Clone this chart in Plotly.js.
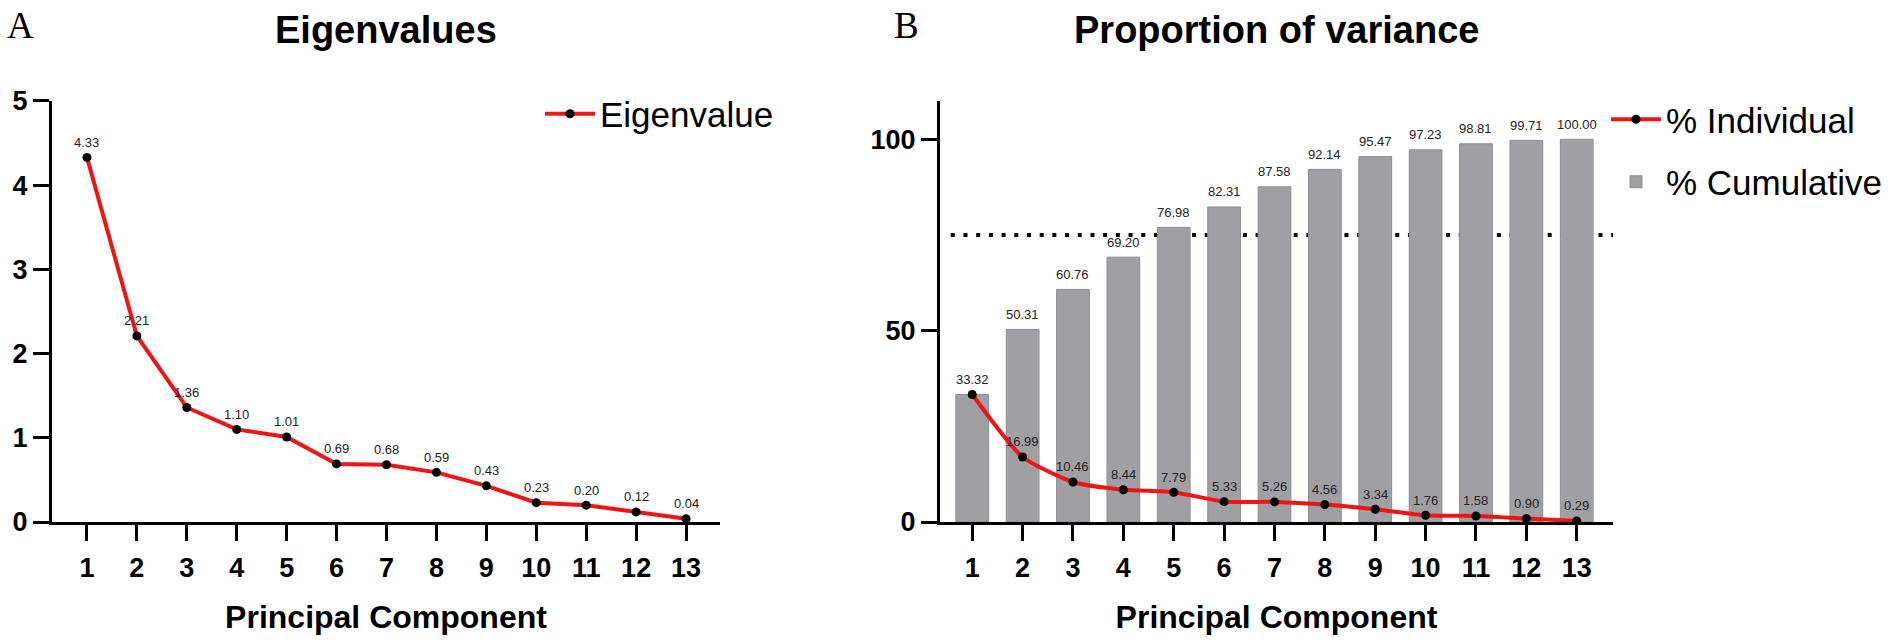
<!DOCTYPE html>
<html>
<head>
<meta charset="utf-8">
<script src="https://cdn.plot.ly/plotly-3.0.1.min.js"></script>
<style>html,body{margin:0;padding:0;background:#fff;}#chart{width:1902px;height:644px;}</style>
</head>
<body>
<div id="chart"></div>
<script>
// ---- data ----
const components = [1, 2, 3, 4, 5, 6, 7, 8, 9, 10, 11, 12, 13];
const eigenvalues = [4.33, 2.21, 1.36, 1.10, 1.01, 0.69, 0.68, 0.59, 0.43, 0.23, 0.20, 0.12, 0.04];
const individualPct = [33.32, 16.99, 10.46, 8.44, 7.79, 5.33, 5.26, 4.56, 3.34, 1.76, 1.58, 0.90, 0.29];
const cumulativePct = [33.32, 50.31, 60.76, 69.20, 76.98, 82.31, 87.58, 92.14, 95.47, 97.23, 98.81, 99.71, 100.00];
const threshold = 75;
const leftTicks = [0, 1, 2, 3, 4, 5];
const rightTicks = [0, 50, 100];

const FONT = 'Liberation Sans, Arial, Helvetica, sans-serif';
const RED = '#f01414';

const traces = [
  {
    x: components, y: eigenvalues, type: 'scatter', mode: 'lines+markers',
    name: 'Eigenvalue', xaxis: 'x', yaxis: 'y', legend: 'legend',
    line: {color: RED, width: 4},
    marker: {color: '#000', size: 9},
    cliponaxis: false
  },
  {
    x: components, y: individualPct, type: 'scatter', mode: 'lines+markers',
    name: '% Individual', xaxis: 'x2', yaxis: 'y2', legend: 'legend2', legendgroup: 'a',
    line: {color: RED, width: 4, shape: 'spline', smoothing: 0.6},
    marker: {color: '#000', size: 9},
    cliponaxis: false
  },
  {
    x: components, y: cumulativePct, type: 'bar',
    name: '% Cumulative', xaxis: 'x2', yaxis: 'y2', legend: 'legend2', legendgroup: 'b',
    marker: {color: '#a09fa4', line: {color: '#8e8d92', width: 1}}
  }
];

const annotations = [];
function fmt(v) { return v.toFixed(2); }
const labelFont = {family: FONT, size: 13, color: '#222'};
components.forEach((c, i) => {
  annotations.push({x: c, y: eigenvalues[i], xref: 'x', yref: 'y', text: fmt(eigenvalues[i]),
    showarrow: false, yshift: 15, font: labelFont});
  annotations.push({x: c, y: individualPct[i], xref: 'x2', yref: 'y2', text: fmt(individualPct[i]),
    showarrow: false, yshift: 15, font: labelFont});
  if (cumulativePct[i] !== individualPct[i]) {
    annotations.push({x: c, y: cumulativePct[i], xref: 'x2', yref: 'y2', text: fmt(cumulativePct[i]),
      showarrow: false, yshift: 15, font: labelFont});
  }
});
// panel titles and letters
const headFont = {family: FONT, size: 38, color: '#000', weight: 'bold'};
const letterFont = {family: 'Liberation Serif, Times New Roman, serif', size: 37, color: '#000'};
annotations.push({xref: 'paper', yref: 'paper', x: 0.2031, y: 1 - 30/644, text: 'Eigenvalues',
  showarrow: false, xanchor: 'center', yanchor: 'middle', font: headFont});
annotations.push({xref: 'paper', yref: 'paper', x: 0.6712, y: 1 - 30/644, text: 'Proportion of variance',
  showarrow: false, xanchor: 'center', yanchor: 'middle', font: headFont});
annotations.push({xref: 'paper', yref: 'paper', x: 5/1902, y: 1 - 25/644, text: 'A',
  showarrow: false, xanchor: 'left', yanchor: 'middle', font: letterFont});
annotations.push({xref: 'paper', yref: 'paper', x: 892/1902, y: 1 - 25/644, text: 'B',
  showarrow: false, xanchor: 'left', yanchor: 'middle', font: letterFont});

const tickFont = {family: FONT, size: 27, color: '#000', weight: 'bold'};
const titleFont = {family: FONT, size: 32, color: '#000', weight: 'bold'};
const legendFont = {family: FONT, size: 35, color: '#000'};
const yDomain = [0.1894, 0.8432];

function xAxis(domain, range, anchor) {
  return {
    domain: domain, range: range, anchor: anchor,
    tickmode: 'array', tickvals: components, ticktext: components.map(String),
    showline: true, linecolor: '#000', linewidth: 3,
    ticks: 'outside', ticklen: 16, tickwidth: 3, tickcolor: '#000',
    showgrid: false, zeroline: false, tickfont: tickFont,
    ticklabelstandoff: 4,
    title: {text: 'Principal Component', font: titleFont, standoff: 24}
  };
}
function yAxis(range, ticks, anchor) {
  return {
    domain: yDomain, range: range, anchor: anchor,
    tickmode: 'array', tickvals: ticks, ticktext: ticks.map(String),
    showline: true, linecolor: '#000', linewidth: 3,
    ticks: 'outside', ticklen: 16, tickwidth: 3, tickcolor: '#000',
    showgrid: false, zeroline: false, tickfont: tickFont
  };
}

const layout = {
  width: 1902, height: 644,
  margin: {l: 0, r: 0, t: 0, b: 0},
  paper_bgcolor: '#fff', plot_bgcolor: 'rgba(0,0,0,0)',
  showlegend: true,
  bargap: 0.35,
  xaxis: xAxis([52/1902, 720/1902], [0.3, 13.68], 'y'),
  yaxis: yAxis([0, 5], leftTicks, 'x'),
  xaxis2: xAxis([940/1902, 1613/1902], [0.36, 13.72], 'y2'),
  yaxis2: yAxis([0, 110], rightTicks, 'x2'),
  legend: {x: 540/1902, y: 1 - 114/644, xanchor: 'left', yanchor: 'middle',
    font: legendFont, bgcolor: 'rgba(0,0,0,0)', itemwidth: 50},
  legend2: {x: 1606/1902, y: 1 - 90/644, xanchor: 'left', yanchor: 'top', tracegroupgap: 14,
    traceorder: 'grouped', font: legendFont, bgcolor: 'rgba(0,0,0,0)', itemwidth: 50},
  shapes: [{
    type: 'line', xref: 'x2 domain', yref: 'y2', x0: 0.016, x1: 1, y0: threshold, y1: threshold,
    layer: 'below', line: {color: '#000', width: 4, dash: '4px,8.7px'}
  }],
  annotations: annotations
};

Plotly.newPlot('chart', traces, layout, {displayModeBar: false, responsive: false});
</script>
</body>
</html>
